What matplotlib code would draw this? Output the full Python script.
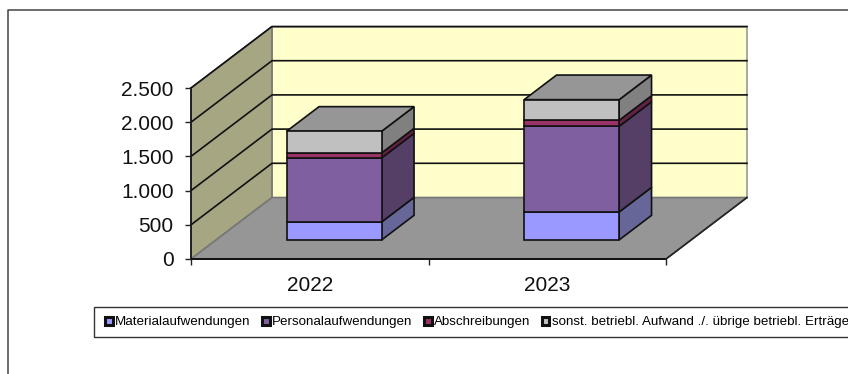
import matplotlib
matplotlib.use('Agg')
import matplotlib.pyplot as plt
from matplotlib.patches import Polygon, Patch, Rectangle

years = ['2022', '2023']
series_names = ['Materialaufwendungen', 'Personalaufwendungen', 'Abschreibungen',
                'sonst. betriebl. Aufwand ./. übrige betriebl. Erträge']
material = [263, 409]
personal = [936, 1252]
abschreibungen = [73, 88]
sonstige = [317, 302]
front_colors = ['#9999FF', '#7F5F9F', '#993366', '#C0C0C0']
side_colors = ['#666699', '#553F66', '#662244', '#808080']
yticks = [0, 500, 1000, 1500, 2000, 2500]
ytick_labels = ['0', '500', '1.000', '1.500', '2.000', '2.500']

W, H = 848, 374
# depth of the fake 3d box, in data units
DX = 81 / 237.5
DY = 61.5 / 0.0684
BAR_WIDTH = 0.4


def proj(x, y, d):
    return (x + d * DX, y + d * DY)


def face(ax, pts, color, lw=1.2, z=2, ec='#111111'):
    ax.add_patch(Polygon(pts, closed=True, facecolor=color, edgecolor=ec,
                         linewidth=lw, zorder=z, clip_on=False, joinstyle='miter'))


def draw_box(ax):
    ymax = yticks[-1]
    face(ax, [proj(0, 0, 1), proj(2, 0, 1), proj(2, ymax, 1), proj(0, ymax, 1)],
         '#FFFFCC', ec='#999999', z=1)
    face(ax, [proj(0, 0, 0), proj(0, 0, 1), proj(0, ymax, 1), proj(0, ymax, 0)],
         '#A6A682', ec='#777777', z=1)
    face(ax, [proj(0, 0, 0), proj(2, 0, 0), proj(2, 0, 1), proj(0, 0, 1)],
         '#969696', ec='#777777', z=1)
    for v in yticks[1:]:
        pts = [proj(0, v, 0), proj(0, v, 1), proj(2, v, 1)]
        ax.plot([p[0] for p in pts], [p[1] for p in pts], color='#111111', lw=1.2,
                zorder=1.5, clip_on=False, solid_joinstyle='miter')
    ax.plot([0, 0], [0, ymax], color='#111111', lw=1.2, zorder=1.5, clip_on=False)
    ax.plot([0, 2], [0, 0], color='#111111', lw=1.4, zorder=1.5, clip_on=False)
    ax.plot(*zip(proj(2, 0, 0), proj(2, 0, 1)), color='#222222', lw=1.2, zorder=1.5, clip_on=False)


def draw_bar(ax, i):
    d0, d1 = 0.31, 0.71
    x0 = i + 0.497 - BAR_WIDTH / 2
    x1 = x0 + BAR_WIDTH
    bottom = 0
    for values, fc, sc in zip([material, personal, abschreibungen, sonstige],
                              front_colors, side_colors):
        top = bottom + values[i]
        face(ax, [proj(x1, bottom, d0), proj(x1, bottom, d1), proj(x1, top, d1), proj(x1, top, d0)], sc)
        face(ax, [proj(x0, bottom, d0), proj(x1, bottom, d0), proj(x1, top, d0), proj(x0, top, d0)], fc, z=3)
        bottom = top
    face(ax, [proj(x0, bottom, d0), proj(x1, bottom, d0), proj(x1, bottom, d1), proj(x0, bottom, d1)], '#969696')


plt.rcParams['font.family'] = ['Liberation Sans', 'DejaVu Sans']
fig = plt.figure(figsize=(W / 100, H / 100), dpi=100)
fig.add_artist(plt.Line2D([8 / W, 8 / W, 1], [0, 1 - 10 / H, 1 - 10 / H],
                          color='#444444', lw=1.1))

ax = fig.add_axes([191 / W, 1 - 259 / H, 475 / W, 171 / H])
ax.set_xlim(0, 2)
ax.set_ylim(0, yticks[-1])
ax.patch.set_visible(False)
for s in ax.spines.values():
    s.set_visible(False)
ax.set_yticks(yticks)
ax.set_yticklabels(ytick_labels, fontsize=15, color='#111111')
ax.set_xticks([0, 1, 2])
ax.set_xticklabels([])
ax.set_xticks([0.5, 1.5], minor=True)
ax.set_xticklabels(years, minor=True, fontsize=15, color='#111111')
ax.tick_params(axis='x', which='minor', length=0, pad=12.5)
ax.tick_params(axis='x', which='major', length=4.5, width=1, color='#222222')
ax.tick_params(axis='y', length=4.5, width=1, pad=8, color='#222222')

draw_box(ax)
for i in range(len(years)):
    draw_bar(ax, i)

# legend frame runs off the right edge, so it is drawn separately
fig.add_artist(Rectangle((93.5 / W, 1 - 337 / H), 800 / W, 30 / H, transform=fig.transFigure,
                         facecolor='white', edgecolor='#333333', linewidth=1))
handles = [Patch(facecolor=c, edgecolor='#111111', linewidth=2.2) for c in front_colors]
leg = fig.legend(handles, series_names, ncol=4, loc='center left',
                 bbox_to_anchor=(105 / W, 1 - 322.5 / H), fontsize=9.65, frameon=False,
                 handlelength=0.56, handleheight=0.56, handletextpad=0.2,
                 columnspacing=0.85, borderaxespad=0, borderpad=0, labelspacing=0)

fig.savefig('out.png', dpi=100)
